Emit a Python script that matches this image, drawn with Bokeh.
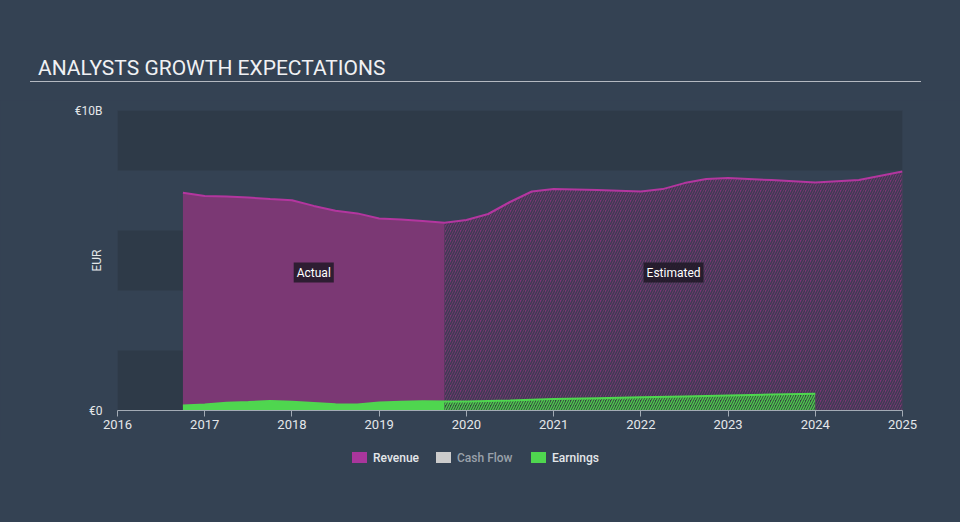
import math
from bokeh.plotting import figure
from bokeh.layouts import column
from bokeh.models import (Range1d, BoxAnnotation, Label, Div, FixedTicker, ColumnDataSource,
                          InlineStyleSheet)
from bokeh.embed import file_html
from bokeh.resources import INLINE

# ---------------- data (EUR billions) ----------------
rev_years_actual = [2016.75, 2017.0, 2017.25, 2017.5, 2017.75, 2018.0, 2018.25, 2018.5,
                    2018.75, 2019.0, 2019.25, 2019.5, 2019.75]
rev_actual = [7.26, 7.15, 7.13, 7.10, 7.05, 7.01, 6.82, 6.66, 6.57, 6.40, 6.37, 6.32, 6.26]

rev_years_est = [2019.75, 2020.0, 2020.25, 2020.5, 2020.75, 2021.0, 2021.5, 2022.0, 2022.25,
                 2022.5, 2022.75, 2023.0, 2023.5, 2024.0, 2024.5, 2025.0]
rev_est = [6.26, 6.35, 6.55, 6.95, 7.30, 7.38, 7.35, 7.30, 7.38, 7.58, 7.72, 7.75, 7.68,
           7.60, 7.68, 7.97]

earn_years_actual = [2016.75, 2017.0, 2017.25, 2017.5, 2017.75, 2018.0, 2018.25, 2018.5,
                     2018.75, 2019.0, 2019.25, 2019.5, 2019.75]
earn_actual = [0.17, 0.20, 0.26, 0.28, 0.32, 0.29, 0.25, 0.21, 0.20, 0.27, 0.29, 0.31, 0.30]

earn_years_est = [2019.75, 2020.0, 2020.5, 2021.0, 2021.5, 2022.0, 2022.5, 2023.0, 2023.5, 2024.0]
earn_est = [0.30, 0.30, 0.33, 0.38, 0.41, 0.44, 0.47, 0.50, 0.53, 0.56]

x_ticks = [2016, 2017, 2018, 2019, 2020, 2021, 2022, 2023, 2024, 2025]
y_ticks = [0, 10]
y_tick_labels = {0: "€0", 10: "€10B"}

title_text = "ANALYSTS GROWTH EXPECTATIONS"
legend_names = ["Revenue", "Cash Flow", "Earnings"]
legend_colors = ["#a9369c", "#cccccc", "#4fd64f"]

# ---------------- style ----------------
BG = "#344253"
BAND = "#2e3a48"
REV_FILL = "#7b3874"
REV_LINE = "#b3369f"
EARN = "#4fd64f"
TEXT = "#e4e7ea"
FONT = "Roboto"
W = 960
TOP_H = 100
MAIN_H = 340
LEG_H = 522 - TOP_H - MAIN_H

host_css = InlineStyleSheet(css=":host{background-color:%s !important;outline:none !important;"
                                "border:none !important;box-shadow:none !important;}"
                                " *{outline:none !important;box-shadow:none !important;"
                                "border:none !important;}" % BG)

# ---------------- header ----------------
top_html = (
    '<div style="position:relative;width:%dpx;height:%dpx;margin:0;padding:0;">'
    '<div style="position:absolute;left:38px;top:56px;font-family:Roboto;font-size:21px;'
    'line-height:24px;color:#f0f1f3;white-space:nowrap;">%s</div>'
    '<div style="position:absolute;left:30px;top:81px;width:891px;height:1.3px;'
    'background-color:#b4b9c1;"></div></div>' % (W, TOP_H, title_text)
)
top = Div(text=top_html, width=W, height=TOP_H, margin=0,
          styles={"background-color": BG, "padding": "0", "margin": "0"})

# ---------------- main chart ----------------
p = figure(width=W, height=MAIN_H, output_backend="svg", toolbar_location=None,
           x_range=Range1d(2016, 2025), y_range=Range1d(0, 10),
           min_border_left=117, min_border_right=58, min_border_top=10,
           min_border_bottom=30, background_fill_color=BG, border_fill_color=BG,
           outline_line_color=None, margin=0,
           styles={"background-color": BG}, stylesheets=[host_css])
p.grid.visible = False

for lo, hi in [(0, 2), (4, 6), (8, 10)]:
    p.add_layout(BoxAnnotation(bottom=lo, top=hi, fill_color=BAND, fill_alpha=1.0,
                               line_color=None, level="underlay"))

src_ra = ColumnDataSource(dict(x=rev_years_actual, y=rev_actual))
src_re = ColumnDataSource(dict(x=rev_years_est, y=rev_est))
src_rl = ColumnDataSource(dict(x=rev_years_actual + rev_years_est[1:], y=rev_actual + rev_est[1:]))
src_ea = ColumnDataSource(dict(x=earn_years_actual, y=earn_actual))
src_ee = ColumnDataSource(dict(x=earn_years_est, y=earn_est))
src_el = ColumnDataSource(dict(x=earn_years_actual + earn_years_est[1:], y=earn_actual + earn_est[1:]))

p.varea(x="x", y1=0, y2="y", source=src_ra, fill_color=REV_FILL)
p.varea(x="x", y1=0, y2="y", source=src_re, fill_color=REV_FILL,
        hatch_pattern="/", hatch_color="#343a4d", hatch_alpha=0.85, hatch_scale=5,
        hatch_weight=1.6)
p.line(x="x", y="y", source=src_rl, line_color=REV_LINE, line_width=2)

p.varea(x="x", y1=0, y2="y", source=src_ea, fill_color=EARN)
p.varea(x="x", y1=0, y2="y", source=src_ee, fill_color="#36483f",
        hatch_pattern="/", hatch_color=EARN, hatch_alpha=0.9, hatch_scale=5,
        hatch_weight=1.4)
p.line(x="x", y="y", source=src_el, line_color=EARN, line_width=2)

xa = p.xaxis[0]
xa.ticker = FixedTicker(ticks=x_ticks)
xa.axis_line_color = "#a3abb5"
xa.major_tick_line_color = "#a3abb5"
xa.major_tick_in = 0
xa.major_tick_out = 6
xa.minor_tick_line_color = None
xa.major_label_standoff = 3
xa.major_label_text_font = FONT
xa.major_label_text_font_size = "13px"
xa.major_label_text_color = TEXT

ya = p.yaxis[0]
ya.ticker = FixedTicker(ticks=y_ticks)
ya.major_label_overrides = y_tick_labels
ya.axis_line_color = None
ya.major_tick_line_color = None
ya.minor_tick_line_color = None
ya.major_tick_in = 0
ya.major_tick_out = 0
ya.major_label_standoff = 15
ya.major_label_text_font = FONT
ya.major_label_text_font_size = "12px"
ya.major_label_text_color = TEXT
ya.axis_label = "EUR"
ya.axis_label_text_font = FONT
ya.axis_label_text_font_size = "12px"
ya.axis_label_text_font_style = "normal"
ya.axis_label_text_color = TEXT
ya.axis_label_standoff = -32

for xv, t in [(2018.25, "Actual"), (2022.375, "Estimated")]:
    p.add_layout(Label(x=xv, y=4.6, text=t, text_align="center", text_baseline="middle",
                       text_font=FONT, text_font_size="12px", text_color="#ffffff",
                       background_fill_color="#1c1622", background_fill_alpha=0.8,
                       padding=3))

# ---------------- legend strip ----------------
leg_x = [352, 436, 531]
leg_text_colors = [TEXT, "#9aa1aa", TEXT]
parts = ['<div style="position:relative;width:%dpx;height:%dpx;margin:0;padding:0;">' % (W, LEG_H)]
for name, col, xl, tc in zip(legend_names, legend_colors, leg_x, leg_text_colors):
    parts.append('<div style="position:absolute;left:%dpx;top:12px;width:15px;height:11px;'
                 'background-color:%s;"></div>' % (xl, col))
    parts.append('<div style="position:absolute;left:%dpx;top:11px;font-family:Roboto;'
                 'font-size:12px;font-weight:500;line-height:14px;color:%s;'
                 'white-space:nowrap;">%s</div>' % (xl + 21, tc, name))
parts.append('</div>')
lf = Div(text="".join(parts), width=W, height=LEG_H, margin=0,
         styles={"background-color": BG, "padding": "0", "margin": "0"})

layout = column(top, p, lf, spacing=0, styles={"background-color": BG})

html = file_html(layout, INLINE)
html = html.replace("<body>", '<body style="background-color:%s;">' % BG, 1)
open("out.html", "w").write(html)
